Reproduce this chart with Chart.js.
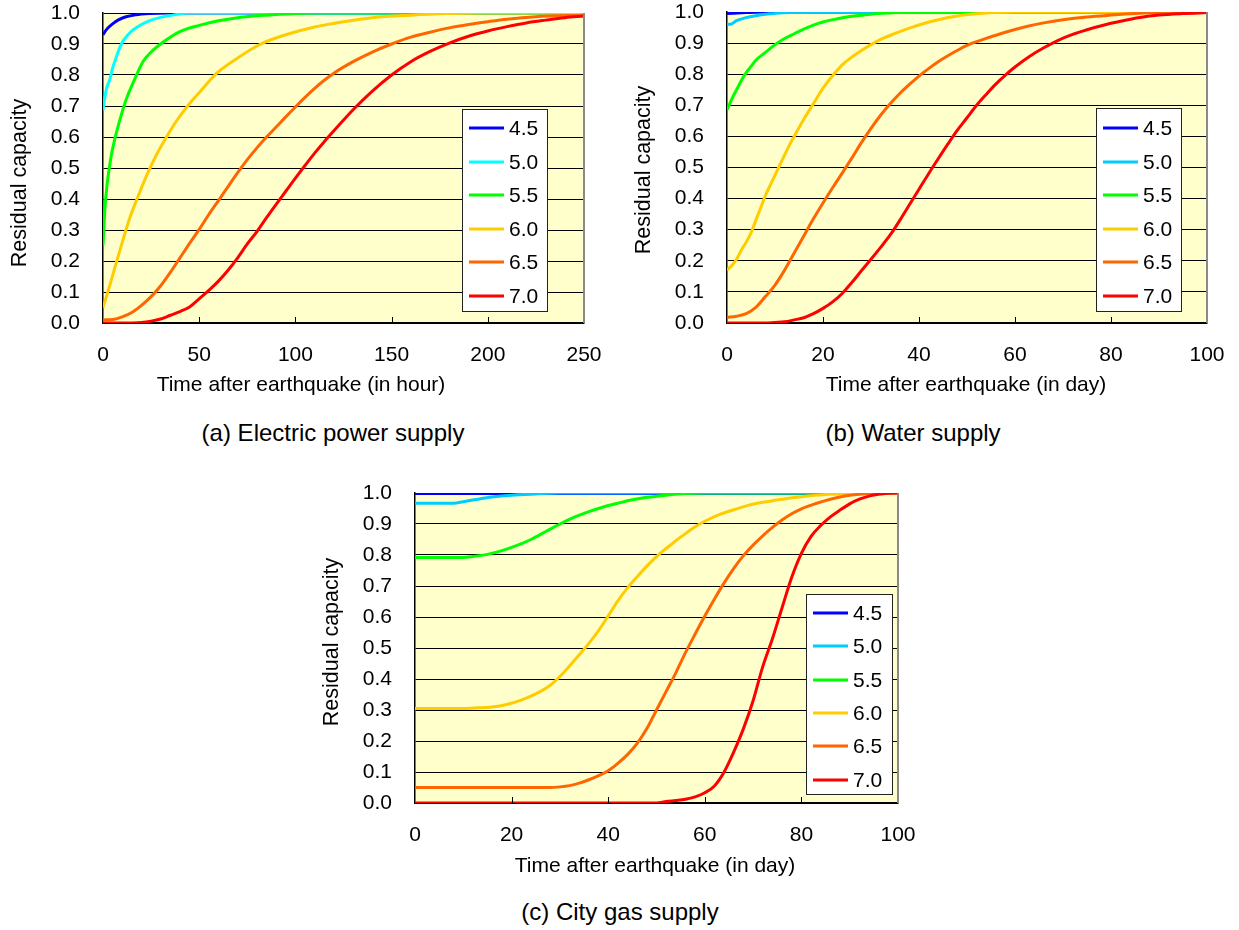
<!DOCTYPE html>
<html>
<head>
<meta charset="utf-8">
<title>Residual capacity of lifelines</title>
<script src="https://cdn.jsdelivr.net/npm/chart.js@4.4.1/dist/chart.umd.min.js"></script>
<style>
  html, body { margin: 0; padding: 0; background: #fff; }
  body { width: 1239px; height: 930px; position: relative; overflow: hidden;
         font-family: 'Liberation Sans', Arial, Helvetica, sans-serif; color: #000; }
  canvas { position: absolute; }
  .caption { position: absolute; font-size: 24px; line-height: 24px; white-space: nowrap;
             transform: translateX(-50%); }
</style>
</head>
<body>

<canvas id="chart-power" width="620" height="400" style="left:0;top:0"></canvas>
<canvas id="chart-water" width="619" height="400" style="left:620px;top:0"></canvas>
<canvas id="chart-gas" width="620" height="400" style="left:310px;top:480px"></canvas>

<div class="caption" style="left:333px;top:421px">(a) Electric power supply</div>
<div class="caption" style="left:913px;top:421px">(b) Water supply</div>
<div class="caption" style="left:620px;top:900px">(c) City gas supply</div>

<script>
(function () {
  'use strict';

  /*--------- DATA --------*/

  const MAGNITUDES = ['4.5', '5.0', '5.5', '6.0', '6.5', '7.0'];
  const Y_TICK_LABELS = ['0.0', '0.1', '0.2', '0.3', '0.4', '0.5', '0.6', '0.7', '0.8', '0.9', '1.0'];

  // (a) electric power: [hours, residual capacity]
  const power45 = [[0, 0.93], [2, 0.948], [5, 0.965], [8, 0.978], [12, 0.988], [17, 0.994], [24, 0.998], [33, 1], [250, 1]];
  const power50 = [[0, 0.687], [1, 0.73], [2, 0.76], [3.5, 0.785], [5, 0.822], [6.5, 0.85], [8.5, 0.885], [10.5, 0.91],
    [13, 0.93], [16, 0.947], [20, 0.963], [25, 0.977], [30, 0.986], [37, 0.994], [45, 1], [250, 1]];
  const power55 = [[0, 0.25], [1, 0.37], [2, 0.44], [4, 0.53], [6, 0.59], [9, 0.66], [12, 0.72], [16, 0.78], [21, 0.845],
    [26, 0.88], [31, 0.905], [40, 0.94], [50, 0.96], [60, 0.975], [70, 0.985], [85, 0.993], [100, 0.998], [110, 1], [250, 1]];
  const power60 = [[0, 0.05], [3, 0.11], [6, 0.175], [10, 0.26], [14, 0.34], [18, 0.405], [23, 0.48], [28, 0.545], [33, 0.6],
    [38, 0.65], [44, 0.7], [51, 0.75], [59, 0.805], [70, 0.855], [82, 0.9], [95, 0.93], [110, 0.955], [125, 0.972],
    [140, 0.985], [160, 0.993], [180, 0.998], [195, 1], [250, 1]];
  const power65 = [[0, 0.01], [5, 0.011], [10, 0.02], [15, 0.034], [20, 0.057], [25, 0.085], [30, 0.12], [35, 0.163],
    [40, 0.21], [45, 0.257], [50, 0.302], [55, 0.35], [60, 0.395], [65, 0.44], [70, 0.485], [75, 0.527], [80, 0.565],
    [85, 0.6], [90, 0.632], [95, 0.665], [100, 0.697], [105, 0.728], [110, 0.757], [115, 0.783], [120, 0.806],
    [130, 0.843], [140, 0.874], [150, 0.9], [160, 0.922], [170, 0.938], [180, 0.952], [190, 0.963], [200, 0.972],
    [210, 0.98], [225, 0.988], [250, 0.993]];
  const power70 = [[0, 0], [10, 0], [20, 0.002], [25, 0.006], [30, 0.013], [35, 0.025], [40, 0.037], [45, 0.052],
    [50, 0.078], [55, 0.105], [60, 0.135], [65, 0.17], [70, 0.21], [75, 0.255], [80, 0.295], [85, 0.34], [90, 0.383],
    [95, 0.425], [100, 0.467], [105, 0.508], [110, 0.548], [115, 0.585], [120, 0.62], [130, 0.688], [140, 0.748],
    [150, 0.8], [160, 0.843], [170, 0.876], [180, 0.903], [190, 0.925], [200, 0.942], [210, 0.956], [220, 0.968],
    [230, 0.977], [240, 0.985], [250, 0.99]];

  // (b) water: [days, residual capacity]
  const water45 = [[0, 0.995], [4, 0.998], [8, 1], [100, 1]];
  const water50 = [[0, 0.96], [1, 0.962], [2, 0.972], [4, 0.982], [6, 0.988], [9, 0.994], [13, 0.998], [17, 1], [100, 1]];
  const water55 = [[0, 0.685], [1, 0.72], [2, 0.75], [3, 0.78], [4, 0.805], [5, 0.825], [6, 0.845], [8, 0.87], [10, 0.895],
    [12, 0.915], [14, 0.93], [16, 0.945], [18, 0.958], [20, 0.968], [23, 0.978], [26, 0.986], [30, 0.993], [34, 0.997],
    [38, 1], [100, 1]];
  const water60 = [[0, 0.17], [1, 0.185], [2, 0.205], [3, 0.235], [4, 0.26], [5, 0.29], [6, 0.33], [7, 0.37], [8, 0.41],
    [9, 0.443], [10, 0.475], [11, 0.508], [12, 0.54], [13, 0.572], [14, 0.6], [16, 0.655], [18, 0.705], [20, 0.755],
    [22, 0.795], [24, 0.83], [26, 0.855], [28, 0.876], [30, 0.895], [32, 0.912], [35, 0.931], [38, 0.948], [41, 0.963],
    [44, 0.975], [48, 0.987], [52, 0.994], [56, 0.998], [60, 1], [100, 1]];
  const water65 = [[0, 0.018], [2, 0.022], [4, 0.03], [6, 0.05], [8, 0.085], [10, 0.122], [12, 0.17], [14, 0.225], [16, 0.28],
    [18, 0.335], [20, 0.386], [22, 0.435], [24, 0.482], [26, 0.53], [28, 0.58], [30, 0.626], [32, 0.668], [34, 0.705],
    [36, 0.738], [38, 0.767], [40, 0.794], [42, 0.818], [44, 0.84], [47, 0.868], [50, 0.893], [54, 0.915], [58, 0.935],
    [62, 0.952], [66, 0.965], [70, 0.975], [75, 0.984], [80, 0.99], [85, 0.995], [90, 0.998], [95, 1], [100, 1]];
  const water70 = [[0, 0], [8, 0], [10, 0.002], [12, 0.004], [14, 0.01], [16, 0.017], [18, 0.03], [20, 0.047], [22, 0.068],
    [24, 0.095], [26, 0.13], [28, 0.168], [30, 0.205], [32, 0.243], [34, 0.283], [36, 0.33], [38, 0.38], [40, 0.43],
    [42, 0.48], [44, 0.528], [46, 0.575], [48, 0.62], [50, 0.66], [52, 0.7], [54, 0.735], [56, 0.768], [58, 0.797],
    [60, 0.823], [63, 0.857], [66, 0.885], [69, 0.909], [72, 0.928], [75, 0.943], [78, 0.956], [82, 0.97], [86, 0.982],
    [90, 0.99], [95, 0.995], [100, 0.998]];

  // (c) city gas: [days, residual capacity]
  const gas45 = [[0, 0.998], [100, 0.998]];
  const gas50 = [[0, 0.967], [8, 0.967], [10, 0.972], [13, 0.98], [16, 0.987], [20, 0.993], [25, 0.997], [30, 1], [100, 1]];
  const gas55 = [[0, 0.792], [10, 0.792], [12, 0.795], [15, 0.802], [18, 0.814], [21, 0.83], [24, 0.85], [27, 0.875],
    [30, 0.9], [33, 0.922], [36, 0.94], [39, 0.955], [42, 0.967], [45, 0.978], [48, 0.986], [52, 0.993], [56, 0.998],
    [60, 1], [100, 1]];
  const gas60 = [[0, 0.305], [10, 0.305], [13, 0.307], [16, 0.31], [19, 0.318], [22, 0.332], [25, 0.352], [28, 0.38],
    [30, 0.408], [32, 0.442], [34, 0.478], [36, 0.515], [38, 0.556], [40, 0.603], [42, 0.652], [44, 0.694], [46, 0.73],
    [48, 0.764], [50, 0.795], [52, 0.821], [54, 0.846], [56, 0.869], [58, 0.891], [60, 0.909], [63, 0.93], [66, 0.946],
    [69, 0.96], [72, 0.97], [76, 0.98], [80, 0.988], [85, 0.995], [90, 0.998], [95, 1], [100, 1]];
  const gas65 = [[0, 0.05], [28, 0.05], [30, 0.052], [32, 0.056], [34, 0.064], [36, 0.075], [38, 0.088], [40, 0.104],
    [42, 0.128], [44, 0.156], [46, 0.192], [48, 0.24], [50, 0.3], [52, 0.36], [54, 0.42], [56, 0.485], [58, 0.545],
    [60, 0.603], [62, 0.658], [64, 0.71], [66, 0.757], [68, 0.798], [70, 0.832], [72, 0.862], [74, 0.889], [76, 0.913],
    [78, 0.933], [80, 0.949], [83, 0.966], [86, 0.98], [89, 0.99], [92, 0.996], [96, 1], [100, 1]];
  const gas70 = [[0, 0], [50, 0], [52, 0.005], [54, 0.008], [56, 0.012], [58, 0.02], [60, 0.033], [62, 0.055], [64, 0.1],
    [66, 0.165], [68, 0.24], [70, 0.33], [72, 0.44], [74, 0.53], [76, 0.63], [78, 0.728], [80, 0.805], [82, 0.86],
    [84, 0.895], [86, 0.923], [88, 0.945], [90, 0.965], [92, 0.98], [94, 0.99], [96, 0.996], [98, 0.999], [100, 1]];

  const POWER_COLORS = ['#0000FF', '#00FFFF', '#00FF00', '#FFCC00', '#FF6600', '#FF0000'];
  const SUPPLY_COLORS = ['#0000FF', '#00CCFF', '#00FF00', '#FFCC00', '#FF6600', '#FF0000'];

  const FONT = "'Liberation Sans', Arial, Helvetica, sans-serif";
  const TICK_SIZE = 21;
  Chart.defaults.font.family = FONT;
  Chart.defaults.color = '#000';


  /*--------- PLUGINS --------*/

  // Pale yellow plot area, inward ticks on the time axis, grey right edge
  const plotFrame = {
    id: 'plotFrame',
    beforeDraw(chart, args, opts) {
      const { ctx, chartArea: a } = chart;
      ctx.save();
      ctx.fillStyle = opts.fill;
      ctx.fillRect(a.left, a.top, a.right - a.left, a.bottom - a.top);
      ctx.restore();
    },
    afterDatasetsDraw(chart, args, opts) {
      const { ctx, chartArea: a } = chart;
      const xs = chart.scales.x;
      ctx.save();
      ctx.strokeStyle = '#000';
      ctx.lineWidth = 1;
      xs.ticks.forEach(function (t) {
        const px = Math.round(xs.getPixelForValue(t.value)) + 0.5;
        if (px <= a.left + 2 || px >= a.right - 2) return;
        ctx.beginPath();
        ctx.moveTo(px, a.bottom);
        ctx.lineTo(px, a.bottom - 6);
        ctx.stroke();
      });
      ctx.strokeStyle = opts.edge;
      ctx.lineWidth = 2;
      ctx.beginPath();
      ctx.moveTo(a.right, a.top);
      ctx.lineTo(a.right, a.bottom);
      ctx.stroke();
      ctx.restore();
    }
  };

  // Axis titles placed freely around the plot
  const axisTitles = {
    id: 'axisTitles',
    afterDraw(chart, args, opts) {
      const ctx = chart.ctx;
      ctx.save();
      ctx.fillStyle = '#000';
      ctx.textAlign = 'center';
      ctx.textBaseline = 'middle';
      ctx.font = opts.xSize + 'px ' + FONT;
      ctx.fillText(opts.xText, opts.xAt[0], opts.xAt[1]);
      ctx.font = opts.ySize + 'px ' + FONT;
      ctx.translate(opts.yAt[0], opts.yAt[1]);
      ctx.rotate(-Math.PI / 2);
      ctx.fillText(opts.yText, 0, 0);
      ctx.restore();
    }
  };

  // Boxed legend sitting inside the plot area, bottom right
  const boxLegend = {
    id: 'boxLegend',
    afterDraw(chart, args, opts) {
      const { ctx, chartArea: a } = chart;
      const x = Math.round(a.right - opts.right - opts.width);
      const y = Math.round(a.bottom - opts.bottom - opts.height);
      ctx.save();
      ctx.fillStyle = '#fff';
      ctx.fillRect(x, y, opts.width, opts.height);
      ctx.strokeStyle = '#222';
      ctx.lineWidth = 1;
      ctx.strokeRect(x + 0.5, y + 0.5, opts.width, opts.height);
      ctx.font = TICK_SIZE + 'px ' + FONT;
      ctx.textBaseline = 'middle';
      ctx.textAlign = 'left';
      chart.data.datasets.forEach(function (ds, i) {
        const cy = Math.round(y + opts.rowTop + i * opts.rowGap);
        ctx.strokeStyle = ds.borderColor;
        ctx.lineWidth = 3;
        ctx.beginPath();
        ctx.moveTo(x + 7, cy);
        ctx.lineTo(x + 42, cy);
        ctx.stroke();
        ctx.fillStyle = '#000';
        ctx.fillText(ds.label, x + 47, cy + 1);
      });
      ctx.restore();
    }
  };


  /*--------- CHART FACTORY --------*/

  function toPoints(pairs) {
    return pairs.map(function (p) { return { x: p[0], y: p[1] }; });
  }

  function buildPanel(id, spec) {
    const datasets = spec.series.map(function (pairs, i) {
      return {
        label: MAGNITUDES[i],
        data: toPoints(pairs),
        borderColor: spec.colors[i],
        backgroundColor: spec.colors[i],
        borderWidth: 3,
        pointRadius: 0,
        pointHoverRadius: 0,
        cubicInterpolationMode: 'monotone',
        fill: false,
        order: spec.series.length - i   // larger magnitudes drawn on top
      };
    });

    return new Chart(document.getElementById(id), {
      type: 'line',
      data: { datasets: datasets },
      options: {
        responsive: false,
        animation: false,
        layout: { padding: { left: 0, top: spec.padTop, right: spec.padRight, bottom: 0 } },
        plugins: {
          legend: { display: false },
          tooltip: { enabled: false },
          plotFrame: { fill: '#FFFFCC', edge: '#8a8a8a' },
          axisTitles: {
            xText: spec.xTitle, xAt: spec.xTitleAt, xSize: 21,
            yText: 'Residual capacity', yAt: spec.yTitleAt, ySize: 21.5
          },
          boxLegend: spec.legend
        },
        scales: {
          x: {
            type: 'linear',
            min: 0,
            max: spec.xMax,
            afterFit: function (s) { s.height = 77; s.paddingLeft = 0; s.paddingRight = 0; },
            grid: { drawOnChartArea: false, drawTicks: false },
            border: { color: '#000', width: 1.5 },
            ticks: { stepSize: spec.xStep, padding: 20, font: { size: TICK_SIZE }, color: '#000' }
          },
          y: {
            min: 0,
            max: 1,
            afterFit: function (s) { s.width = spec.yAxisWidth; s.paddingTop = 0; s.paddingBottom = 0; },
            grid: { color: '#000', lineWidth: 1, drawTicks: false },
            border: { color: '#000', width: 1.5 },
            ticks: {
              stepSize: 0.1,
              padding: 23,
              font: { size: TICK_SIZE },
              color: '#000',
              callback: function (v, idx) { return Y_TICK_LABELS[idx]; }
            }
          }
        }
      },
      plugins: [plotFrame, axisTitles, boxLegend]
    });
  }


  /*--------- PANELS --------*/

  buildPanel('chart-power', {
    series: [power45, power50, power55, power60, power65, power70],
    colors: POWER_COLORS,
    xMax: 250, xStep: 50,
    xTitle: 'Time after earthquake (in hour)',
    padTop: 13, padRight: 36, yAxisWidth: 103,
    xTitleAt: [301, 385], yTitleAt: [20, 183],
    legend: { right: 37, bottom: 12, width: 85, height: 202, rowTop: 19, rowGap: 33.6 }
  });

  buildPanel('chart-water', {
    series: [water45, water50, water55, water60, water65, water70],
    colors: SUPPLY_COLORS,
    xMax: 100, xStep: 20,
    xTitle: 'Time after earthquake (in day)',
    padTop: 12, padRight: 32, yAxisWidth: 107,
    xTitleAt: [346, 385], yTitleAt: [24, 170],
    legend: { right: 26, bottom: 12, width: 85, height: 203, rowTop: 20, rowGap: 33.6 }
  });

  buildPanel('chart-gas', {
    series: [gas45, gas50, gas55, gas60, gas65, gas70],
    colors: SUPPLY_COLORS,
    xMax: 100, xStep: 20,
    xTitle: 'Time after earthquake (in day)',
    padTop: 13, padRight: 32, yAxisWidth: 105,
    xTitleAt: [345, 386], yTitleAt: [22, 162],
    legend: { right: 6, bottom: 9, width: 86, height: 200, rowTop: 19, rowGap: 33.3 }
  });

})();
</script>
</body>
</html>
